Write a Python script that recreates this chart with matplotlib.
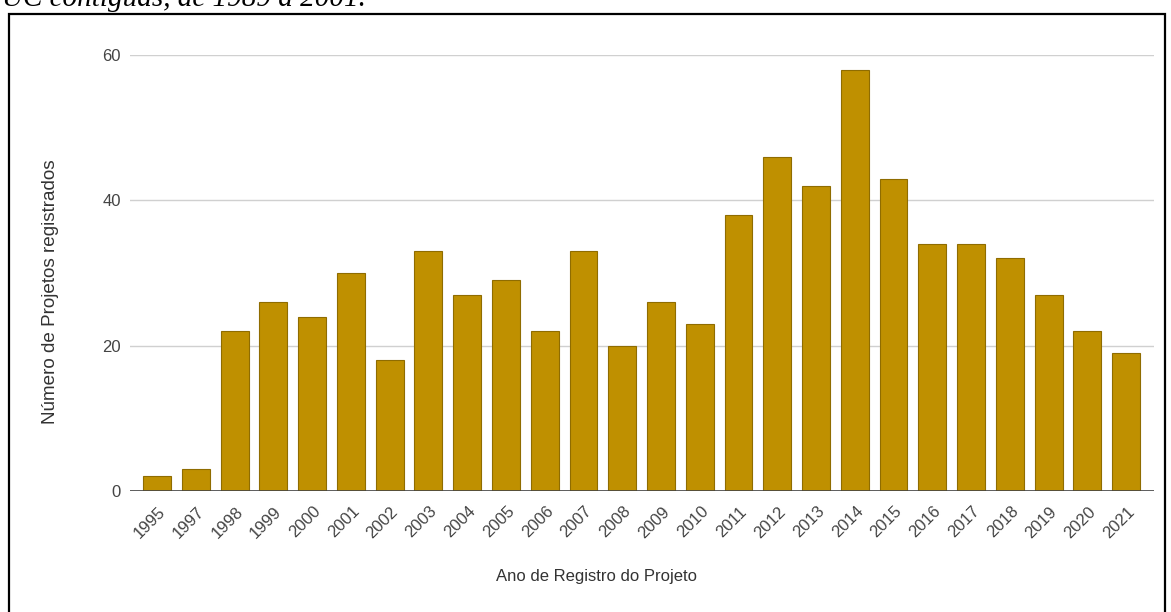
import numpy as np
import matplotlib
matplotlib.use("Agg")
import matplotlib.pyplot as plt
import matplotlib.transforms as mtransforms
from matplotlib.patches import Rectangle

# data
years = ["1995", "1997", "1998", "1999", "2000", "2001", "2002", "2003", "2004",
         "2005", "2006", "2007", "2008", "2009", "2010", "2011", "2012", "2013",
         "2014", "2015", "2016", "2017", "2018", "2019", "2020", "2021"]
projetos = [2, 3, 22, 26, 24, 30, 18, 33, 27, 29, 22, 33, 20, 26, 23, 38, 46, 42,
            58, 43, 34, 34, 32, 27, 22, 19]
y_ticks = [0, 20, 40, 60]

W, H = 1171, 612
plt.rcParams['font.family'] = ['Liberation Sans', 'DejaVu Sans']

fig = plt.figure(figsize=(W / 100, H / 100), dpi=100)

# axes placed in pixel terms of the reference
left, right, bottom, top = 130, 1154, 491, 55
ax = fig.add_axes([left / W, (H - bottom) / H, (right - left) / W, (bottom - top) / H])

x = np.arange(len(years))
ax.bar(x, projetos, width=0.72, color='#bf9000', edgecolor='#8f6c00',
       linewidth=0.8, zorder=3)

ax.set_xlim(-0.7, 25.72)
ax.set_ylim(0, 60)
ax.set_yticks(y_ticks)
ax.set_yticklabels([str(v) for v in y_ticks], fontsize=12, color='#444444')
ax.grid(axis='y', color='#d0d0d0', linewidth=1, zorder=0)
ax.axhline(0, color='#444444', linewidth=1.2, zorder=4)

for s in ax.spines.values():
    s.set_visible(False)

ax.set_xticks(x)
ax.set_xticklabels(years, rotation=45, ha='right', va='center',
                   rotation_mode='anchor', fontsize=12, color='#444444')
ax.tick_params(axis='x', length=0, pad=13)
ax.tick_params(axis='y', length=0, pad=6.5)

# nudge rotated labels to the right like the original
offset = mtransforms.ScaledTranslation(6 / 100, 0, fig.dpi_scale_trans)
for lab in ax.get_xticklabels():
    lab.set_transform(lab.get_transform() + offset)

# axis titles
fig.text(597 / W, 1 - 577 / H, "Ano de Registro do Projeto", ha='center',
         va='center', fontsize=12, color='#333333')
fig.text(51 / W, 1 - 292 / H, "Número de Projetos registrados", ha='center',
         va='center', rotation=90, fontsize=13.6, color='#333333')

# caption line cut off at the top of the page
fig.text(2 / W, 1 - 6 / H, "UC contíguas, de 1989 a 2001.", ha='left',
         va='baseline', fontsize=21, fontstyle='italic',
         family=['Liberation Serif', 'DejaVu Serif'], color='black')

# black frame around the chart
fig.add_artist(Rectangle((9 / W, -0.05), (1165 - 9) / W, (H - 14) / H + 0.05,
                         transform=fig.transFigure, fill=False,
                         edgecolor='black', linewidth=1.6))

fig.savefig("out.png", dpi=100)
